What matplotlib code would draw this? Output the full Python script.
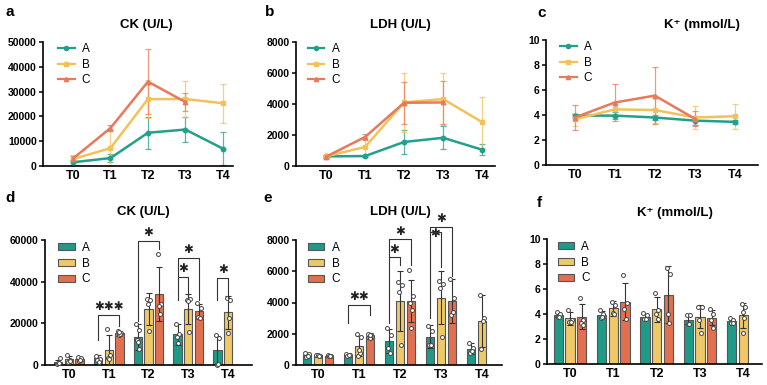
import matplotlib.pyplot as plt
import numpy as np
from matplotlib.lines import Line2D
from matplotlib.patches import Patch

plt.rcParams['font.family'] = ['Liberation Sans', 'DejaVu Sans']

nan = np.nan
times = ['T0', 'T1', 'T2', 'T3', 'T4']
groups = ['A', 'B', 'C']

# CK (U/L): group means, SD and single animals
ck_mean = {'A': [1500, 3200, 13400, 14700, 7000],
           'B': [2800, 7200, 27000, 27000, 25300],
           'C': [3000, 15300, 34000, 25800, nan]}
ck_sd = {'A': [1000, 1500, 6400, 5200, 6700],
         'B': [1500, 7000, 7800, 7200, 7800],
         'C': [1000, 1200, 13000, 3700, nan]}
ck_pts = {'A': [[500, 3500, 1000, 800], [4200, 3000, 2500, 1500], [19500, 17000, 12000, 7500, 11000],
                [19500, 15000, 13500, 10500], [14500, 13000, 0, 500]],
          'B': [[5000, 2500, 1500, 2000], [17500, 5000, 3500, 3000], [31500, 31000, 29500, 16500],
                [31000, 31500, 30500, 16000], [32000, 31000, 15500, 22700]],
          'C': [[4000, 3500, 2000, 2500], [16500, 15500, 14500, 15000, 16000], [53500, 29500, 28500, 24500],
                [30000, 27500, 23000, 22500], []]}
# (time, group 1, group 2, bracket y, leg 1 end, leg 2 end, label, star offset pt)
ck_sig = [(1, 'A', 'C', 24000, 12000, 18500, '✱✱✱', 6),
          (2, 'A', 'C', 59700, 21000, 55500, '✱', 6),
          (3, 'A', 'B', 42100, 31200, 32800, '✱', 6),
          (3, 'A', 'C', 51200, 42600, 31200, '✱', 6),
          (4, 'A', 'B', 41800, 31200, 32200, '✱', 6)]

# LDH (U/L)
ldh_mean = {'A': [620, 640, 1550, 1820, 1050],
            'B': [620, 1230, 4100, 4320, 2830],
            'C': [600, 1870, 4080, 4100, nan]}
ldh_sd = {'A': [100, 80, 780, 750, 350],
          'B': [80, 650, 1900, 1700, 1650],
          'C': [60, 200, 1350, 1400, nan]}
ldh_pts = {'A': [[750, 700, 500, 550], [700, 650, 600, 610], [2400, 1900, 1100, 800],
                 [2500, 2200, 1300, 1300], [1400, 1100, 800, 900]],
           'B': [[650, 600, 650, 580], [2000, 1800, 600, 800, 950], [5300, 5100, 4700, 1300],
                 [5400, 5200, 4900, 1800], [4500, 3000, 1000, 2800]],
           'C': [[620, 580, 600, 600], [2000, 1850, 1700, 1900, 1900], [6100, 4400, 4000, 3500, 2400],
                 [5500, 4300, 3200, 3400], []]}
ldh_sig = [(1, 'A', 'C', 3840, 2690, 3200, '✱✱', 6),
           (2, 'A', 'B', 6890, 2690, 6400, '✱', 6),
           (2, 'A', 'C', 8040, 6890, 6400, '✱', 6),
           (3, 'A', 'B', 8490, 3000, 6300, '✱', -1),
           (3, 'A', 'C', 8850, 8490, 5700, '✱', 6)]

# K+ (mmol/L)
k_mean = {'A': [3.95, 3.95, 3.8, 3.55, 3.45],
          'B': [3.65, 4.45, 4.4, 3.8, 3.9],
          'C': [3.8, 5.0, 5.55, 3.7, nan]}
k_sd = {'A': [0.15, 0.3, 0.2, 0.35, 0.15],
        'B': [0.5, 0.6, 1.0, 0.9, 1.0],
        'C': [1.0, 1.5, 2.3, 0.6, nan]}
k_pts = {'A': [[4.2, 4.0, 3.8, 3.8], [4.3, 4.0, 3.7, 3.8], [4.1, 3.9, 3.6, 3.6],
               [3.9, 3.9, 3.2, 3.2], [3.7, 3.5, 3.3, 3.3]],
         'B': [[4.3, 3.5, 3.4, 3.4], [5.0, 4.7, 4.1, 4.0], [5.7, 4.3, 4.0, 3.6],
               [4.6, 4.6, 3.5, 2.5], [4.8, 4.6, 4.2, 3.7, 2.5]],
         'C': [[5.3, 3.5, 3.3, 3.1], [7.1, 4.9, 4.4, 3.6], [7.7, 7.2, 4.0, 3.3],
               [4.4, 4.0, 3.5, 2.9], []]}

line_colors = {'A': '#22a08b', 'B': '#f2c25a', 'C': '#e8795a'}
bar_colors = {'A': '#1f9a86', 'B': '#efc867', 'C': '#e2704f'}
markers = {'A': 'o', 'B': 's', 'C': '^'}
offsets = {'A': -0.27, 'B': 0.0, 'C': 0.27}
jitter = [-0.04, 0.04, -0.015, 0.02, 0.0]

W, H = 767, 385
fig = plt.figure(figsize=(W / 100, H / 100), dpi=100)


def add_axes(x0, x1, ytop, ybot):
    return fig.add_axes([x0 / W, 1 - ybot / H, (x1 - x0) / W, (ybot - ytop) / H])


def style(ax, ymax, step, xlim):
    ax.set_xlim(*xlim)
    ax.set_ylim(0, ymax)
    ax.set_yticks(np.arange(0, ymax + step / 2, step))
    ax.set_xticks(range(len(times)))
    ax.set_xticklabels(times, fontsize=9, fontweight='bold')
    for lab in ax.get_yticklabels():
        lab.set_fontweight('bold')
        lab.set_fontsize(7.5)
    ax.tick_params(axis='y', length=3, width=1.1, pad=1.5)
    ax.tick_params(axis='x', length=0, pad=3)
    for s in ['top', 'right']:
        ax.spines[s].set_visible(False)
    for s in ['left', 'bottom']:
        ax.spines[s].set_linewidth(1.2)


def line_panel(ax, mean, sd, ymax, step, xlim, lx):
    x = np.arange(len(times))
    for g in groups:
        m = np.array(mean[g], dtype=float)
        s = np.array(sd[g], dtype=float)
        ax.errorbar(x, m, yerr=s, fmt='none', ecolor=line_colors[g], elinewidth=0.9,
                    capsize=2.5, capthick=0.9, alpha=0.75, zorder=2)
        ax.plot(x, m, color=line_colors[g], lw=1.8, marker=markers[g], ms=3.2, zorder=3)
    style(ax, ymax, step, xlim)
    handles = [Line2D([], [], color=line_colors[g], lw=1.6, marker=markers[g], ms=3) for g in groups]
    ax.legend(handles, groups, loc='upper left', bbox_to_anchor=(lx, 0.99), frameon=False,
              fontsize=8.5, handlelength=1.4, handletextpad=0.6, labelspacing=0.3, borderpad=0,
              borderaxespad=0)


def bar_panel(ax, mean, sd, pts, sig, ymax, step, xlim, lx):
    x = np.arange(len(times))
    for g in groups:
        for i in range(len(times)):
            m = mean[g][i]
            if np.isnan(m):
                continue
            xc = x[i] + offsets[g]
            ax.bar(xc, m, width=0.21, color=bar_colors[g], edgecolor='#555555', lw=0.8, zorder=2)
            ax.errorbar(xc, m, yerr=sd[g][i], fmt='none', ecolor='#333333', elinewidth=0.8,
                        capsize=2, capthick=0.8, zorder=3)
            p = pts[g][i]
            ax.scatter(xc + np.array(jitter[:len(p)]), p, s=8, facecolor='white',
                       edgecolor='#444444', linewidths=0.7, zorder=4, clip_on=False)
    style(ax, ymax, step, xlim)
    for t, g1, g2, yt, l1, l2, lab, off in sig:
        x1 = t + offsets[g1]
        x2 = t + offsets[g2]
        ax.plot([x1, x1, x2, x2], [l1, yt, yt, l2], color='#333333', lw=0.8, clip_on=False, zorder=5)
        ax.annotate(lab, xy=((x1 + x2) / 2, yt), xytext=(0, off), textcoords='offset points',
                    ha='center', va='center', fontsize=8.5, family='DejaVu Sans',
                    annotation_clip=False, color='#222222')
    handles = [Patch(facecolor=bar_colors[g], edgecolor='#555555', lw=0.8) for g in groups]
    ax.legend(handles, groups, loc='upper left', bbox_to_anchor=(lx, 0.985), frameon=False,
              fontsize=8.5, handlelength=1.4, handleheight=0.6, handletextpad=0.6,
              labelspacing=0.32, borderpad=0, borderaxespad=0)


ax_a = add_axes(43, 233, 42, 166)
ax_b = add_axes(296, 495, 42, 166)
ax_c = add_axes(546, 758, 40, 165)
ax_d = add_axes(45, 252, 240, 365)
ax_e = add_axes(296, 502, 240, 365)
ax_f = add_axes(547, 762, 239, 364)

line_panel(ax_a, ck_mean, ck_sd, 50000, 10000, (-0.8, 4.27), 0.08)
line_panel(ax_b, ldh_mean, ldh_sd, 8000, 2000, (-0.77, 4.33), 0.06)
line_panel(ax_c, k_mean, k_sd, 10, 2, (-0.72, 4.58), 0.066)
bar_panel(ax_d, ck_mean, ck_sd, ck_pts, ck_sig, 60000, 20000, (-0.6, 4.6), 0.063)
bar_panel(ax_e, ldh_mean, ldh_sd, ldh_pts, ldh_sig, 8000, 2000, (-0.54, 4.49), 0.058)
bar_panel(ax_f, k_mean, k_sd, k_pts, [], 10, 2, (-0.53, 4.43), 0.05)

# titles and panel letters
titles = [('CK (U/L)', 146, 25), ('LDH (U/L)', 400, 25), ('K⁺ (mmol/L)', 702, 25),
          ('CK (U/L)', 143, 212), ('LDH (U/L)', 400, 212), ('K⁺ (mmol/L)', 675, 213)]
for txt, px, py in titles:
    fig.text(px / W, 1 - py / H, txt, ha='center', va='center', fontsize=9.5, fontweight='bold')
letters = [('a', 5, 12), ('b', 265, 12), ('c', 537, 13), ('d', 5, 198), ('e', 263, 198), ('f', 537, 203)]
for txt, px, py in letters:
    fig.text(px / W, 1 - py / H, txt, ha='left', va='center', fontsize=11, fontweight='bold')

fig.savefig('out.png', dpi=100)
